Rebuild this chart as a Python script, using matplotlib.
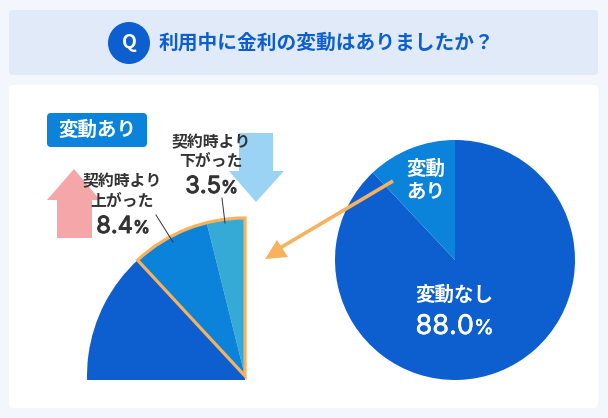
import matplotlib
matplotlib.use("Agg")
import matplotlib.pyplot as plt
import matplotlib.patheffects as pe
from matplotlib.patches import FancyBboxPatch, Polygon, Rectangle, Wedge, Circle

plt.rcParams['font.family'] = ['Noto Sans CJK JP', 'DejaVu Sans']

W, H = 608, 418
title = "利用中に金利の変動はありましたか？"
main_labels = ["変動なし", "変動あり"]
main_values = [88.0, 12.0]
detail_labels = ["契約時より\n下がった", "契約時より\n上がった"]
detail_text = ["3.5", "8.4"]
detail_shares = [3.9, 8.0, 88.1]   # wedge shares as drawn in the picture

DARK, MID, LIGHT = "#0D5FD0", "#0C83DA", "#36AAD6"
ORANGE = "#F6B25C"
INK = "#333333"

def Y(py):
    return H - py

fig = plt.figure(figsize=(W / 100, H / 100), dpi=100, facecolor="#F3F6FD")
ax = fig.add_axes([0, 0, 1, 1])

def box(x0, y0, x1, y1, color, r, z=1):
    ax.add_patch(FancyBboxPatch((x0 + r, Y(y1) + r), x1 - x0 - 2 * r, y1 - y0 - 2 * r,
                                boxstyle=f"round,pad={r}", fc=color, ec="none", zorder=z))

box(9, 10, 598, 75, "#E0EAF9", 4)
box(9, 85, 598, 408, "white", 4)

# header
ax.add_patch(Circle((129, Y(43)), 21, fc=DARK, ec="none", zorder=2))
ax.text(129, Y(43), "Q", color="white", fontsize=14, fontweight="bold", ha="center", va="center", zorder=3)
ax.text(159, Y(43), title, color="#0D5FD0", fontsize=14.2, fontweight="bold", ha="left", va="center", zorder=3)

# right pie
w, _ = ax.pie(main_values, colors=[DARK, MID], startangle=90 + main_values[1] * 3.6,
              center=(455, Y(260)), radius=120, frame=True,
              wedgeprops=dict(linewidth=0, zorder=2))

# left pie, clipped to a quarter
cx, cy, R = 245, Y(376), 158
wl, _ = ax.pie(detail_shares, colors=[LIGHT, MID, DARK], startangle=90, counterclock=True,
               center=(cx, cy), radius=R, frame=True, wedgeprops=dict(linewidth=0, zorder=2))
clip = Rectangle((cx - R - 2, Y(380)), R + 2, R + 10, transform=ax.transData)
for p in wl:
    p.set_clip_on(True)
    p.set_clip_path(clip)
span = (detail_shares[0] + detail_shares[1]) * 3.6
ax.add_patch(Wedge((cx, cy), R, 90, 90 + span, fc="none", ec=ORANGE, lw=2.3, zorder=4, joinstyle="miter"))

# arrows
ax.add_patch(Polygon([(74, Y(169)), (100, Y(200)), (92, Y(200)), (92, Y(238)), (57, Y(238)), (57, Y(200)), (47, Y(200))],
                     fc="#F4A6A8", ec="none", zorder=2))
ax.add_patch(Polygon([(239, Y(133)), (273, Y(133)), (273, Y(171)), (284, Y(171)), (256, Y(202)), (229, Y(171)), (239, Y(171))],
                     fc="#9AD3F4", ec="none", zorder=2))
ax.plot([393, 280], [Y(181), Y(248)], color=ORANGE, lw=2.6, zorder=5, solid_capstyle="butt")
ax.add_patch(Polygon([(265, Y(259)), (277, Y(240)), (288, Y(257))], fc=ORANGE, ec="none", zorder=5))

# leader lines
ax.plot([156, 173], [Y(215), Y(242)], color=INK, lw=0.7, zorder=6)
ax.plot([222, 225], [Y(198), Y(223)], color=INK, lw=0.7, zorder=6)

# badge
box(47, 113, 147, 147, MID, 4, z=3)
ax.text(97, Y(130), main_labels[1], color="white", fontsize=14, fontweight="bold", ha="center", va="center", zorder=6)

def pct(x, baseline, s, color, size, psize, stroke):
    fx = [pe.withStroke(linewidth=stroke, foreground=color)]
    ax.text(x, Y(baseline), s, color=color, fontsize=size, family="Inter",
            ha="right", va="baseline", zorder=6, path_effects=fx)
    ax.text(x, Y(baseline), "%", color=color, fontsize=psize, family="Inter",
            ha="left", va="baseline", zorder=6, path_effects=fx)

for (x, y1, y2), lab in zip([(211, 142, 161), (122, 181, 201)], detail_labels):
    a, b = lab.split("\n")
    ax.text(x, Y(y1), a, color=INK, fontsize=11.4, fontweight="bold", ha="center", va="center", zorder=6)
    ax.text(x, Y(y2), b, color=INK, fontsize=11.4, fontweight="bold", ha="center", va="center", zorder=6)
pct(221, 193, detail_text[0], INK, 17, 12.5, 0.7)
pct(133, 233, detail_text[1], INK, 17, 12.5, 0.7)

# right pie labels
ax.text(426, Y(169), "変動", color="white", fontsize=14, fontweight="bold", ha="center", va="center", zorder=6)
ax.text(426, Y(192), "あり", color="white", fontsize=14, fontweight="bold", ha="center", va="center", zorder=6)
ax.text(454, Y(295), main_labels[0], color="white", fontsize=14, fontweight="bold", ha="center", va="center", zorder=6)
pct(474, 334, f"{main_values[0]:.1f}", "white", 19.5, 14.5, 0.4)

ax.set_xlim(0, W)
ax.set_ylim(0, H)
ax.set_aspect("equal")
ax.axis("off")
fig.savefig("out.png", dpi=100, facecolor=fig.get_facecolor())
